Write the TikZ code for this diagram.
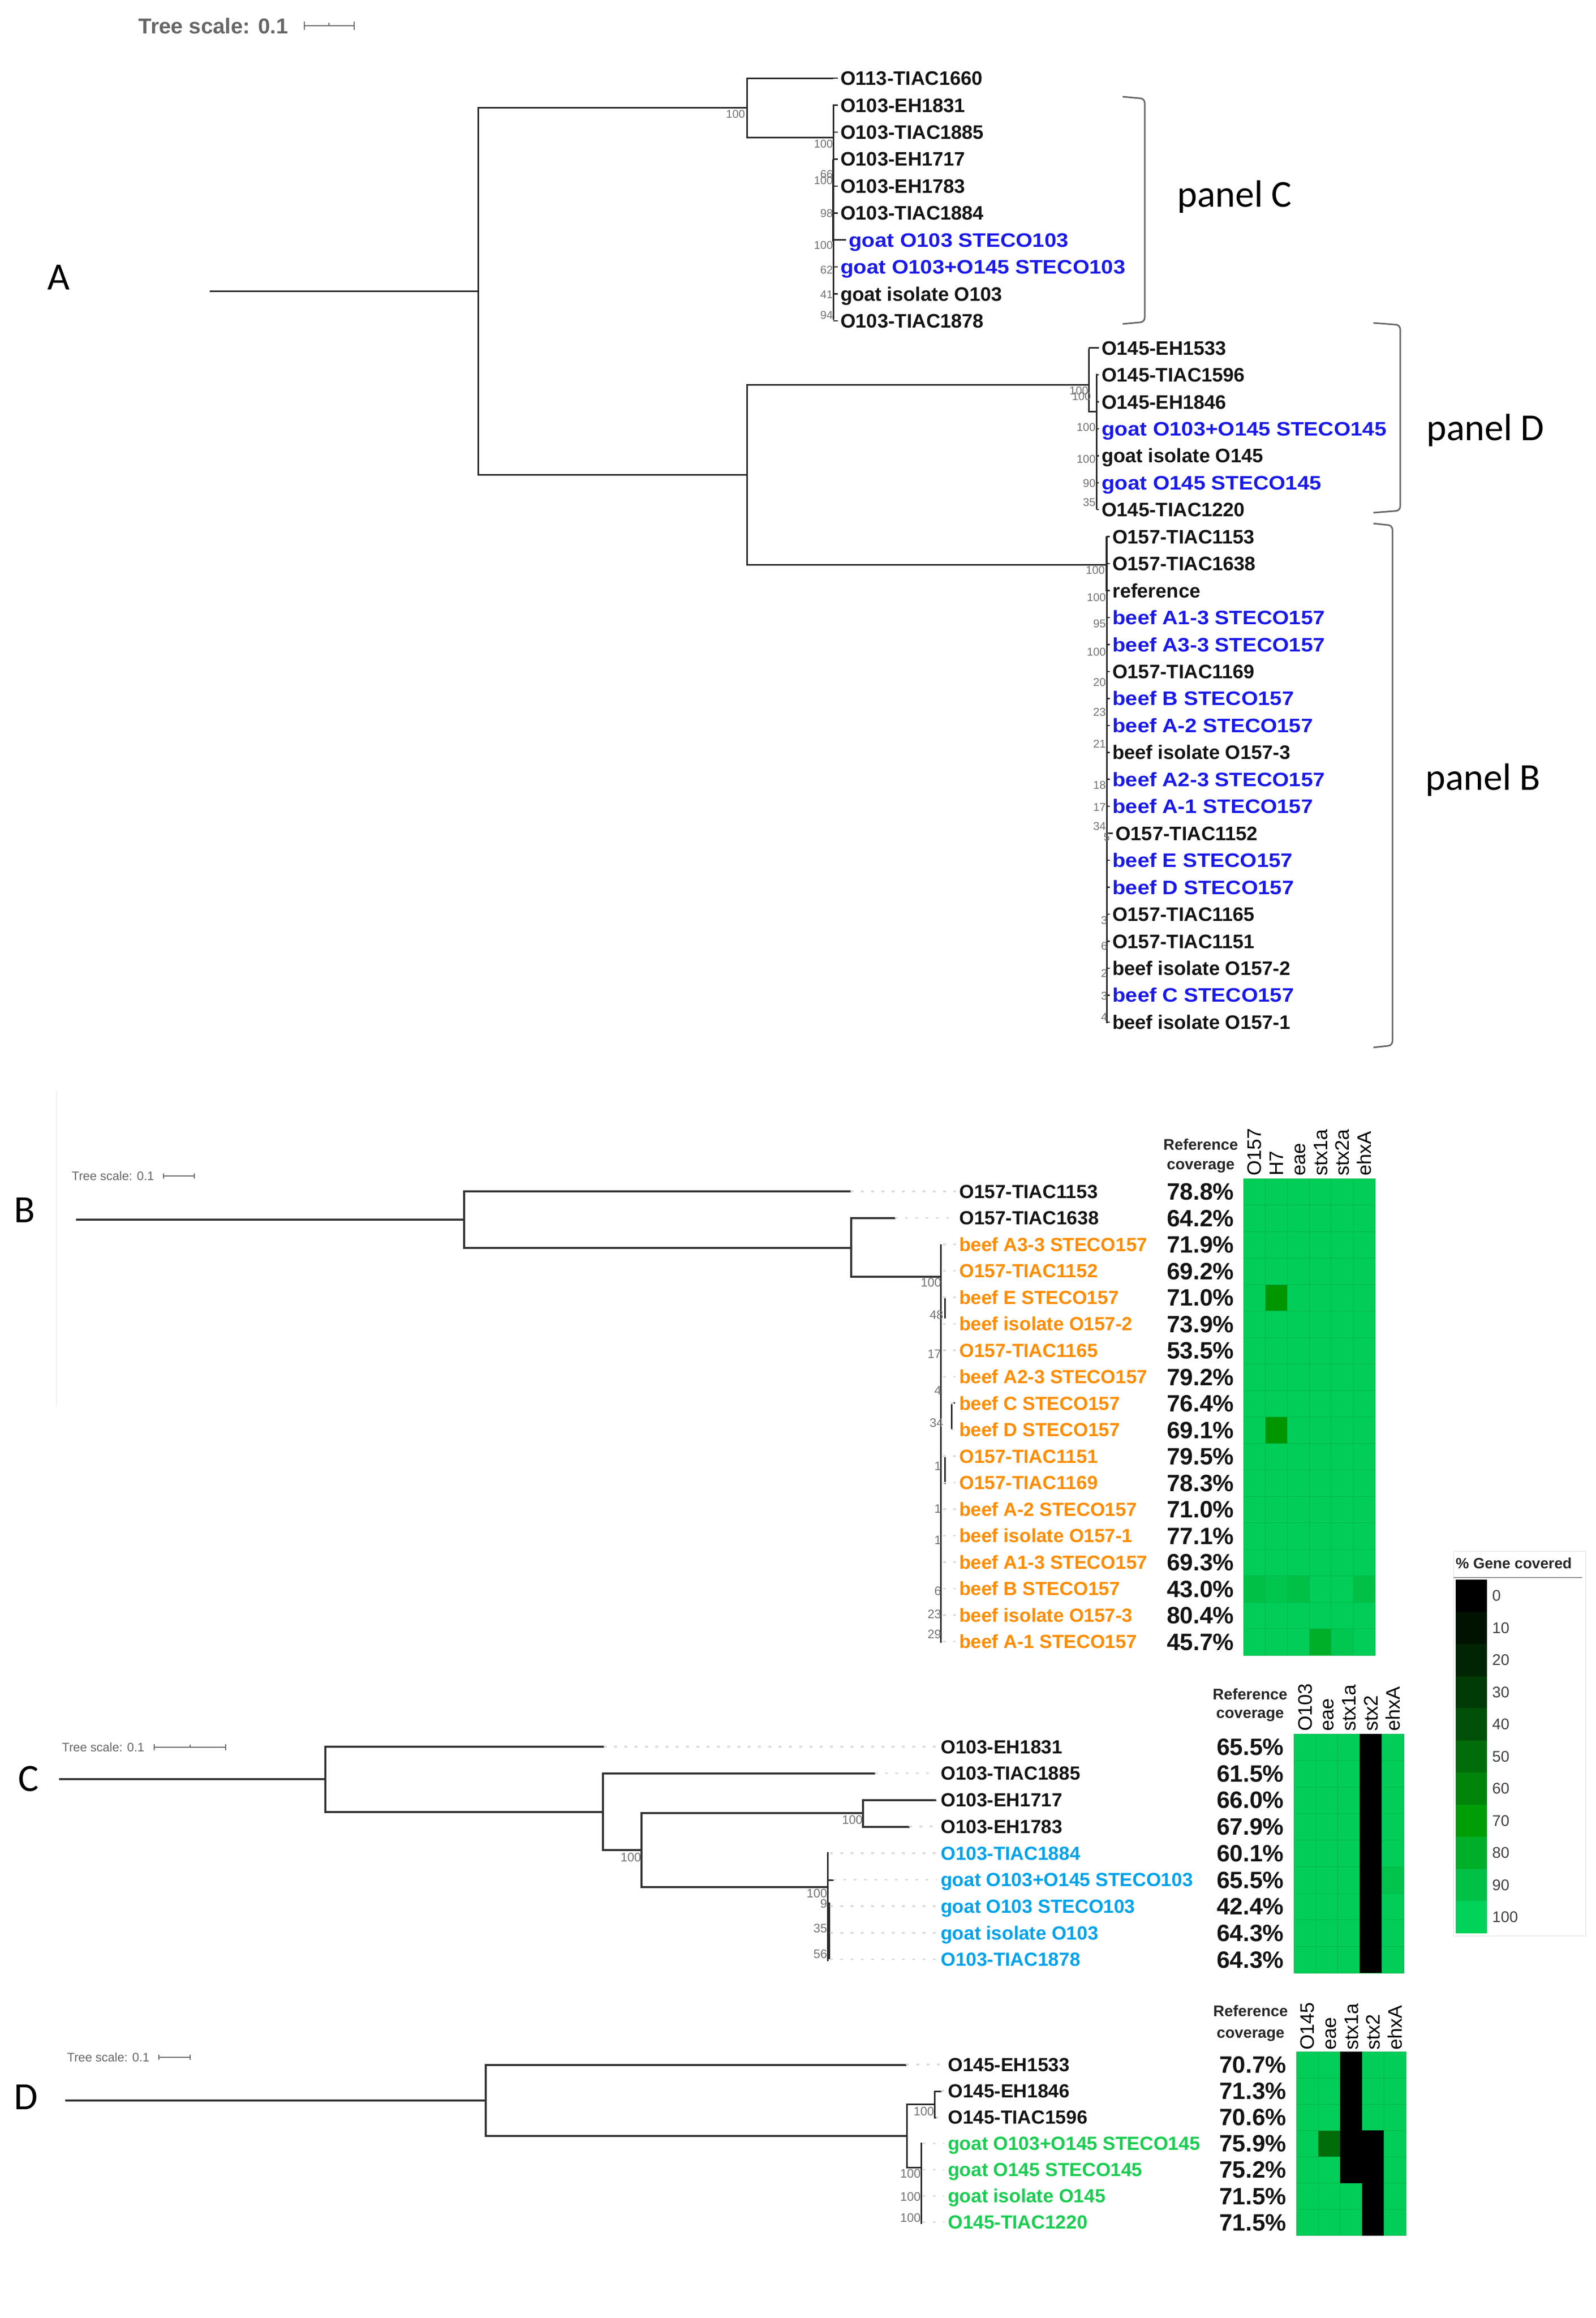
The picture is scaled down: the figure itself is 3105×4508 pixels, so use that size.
\documentclass[tikz,border=0pt]{standalone}
\usepackage{fontspec}
\setmainfont{Liberation Sans}
\newfontfamily\widesans[FakeStretch=1.1]{Liberation Sans}
\newfontfamily\calib{Carlito}
\newcommand\fsz[1]{\fontsize{#1}{#1}\selectfont}
\definecolor{lblue}{RGB}{25,25,235}
\definecolor{corange}{RGB}{255,140,0}
\definecolor{cblue}{RGB}{0,162,235}
\definecolor{cgreen}{RGB}{25,205,80}
\definecolor{hg}{RGB}{0,206,88}
\definecolor{hgrid}{RGB}{0,178,74}
\definecolor{g0}{RGB}{0,0,0}
\definecolor{g1}{RGB}{0,18,0}
\definecolor{g2}{RGB}{0,36,4}
\definecolor{g3}{RGB}{0,58,6}
\definecolor{g4}{RGB}{0,80,8}
\definecolor{g5}{RGB}{0,108,10}
\definecolor{g6}{RGB}{0,132,10}
\definecolor{g7}{RGB}{0,158,6}
\definecolor{g8}{RGB}{0,175,40}
\definecolor{g9}{RGB}{0,192,70}
\definecolor{g10}{RGB}{0,210,90}
\definecolor{hd1}{RGB}{0,150,0}
\tikzset{
  treeA/.style={line width=3pt, draw=black!85},
  tickA/.style={line width=2.5pt, draw=black!85},
  treeB/.style={line width=4.5pt, draw=black!80},
  treeBi/.style={line width=3pt, draw=black!85},
  lead/.style={dash pattern=on 3pt off 17pt, line cap=round, line width=3.5pt, draw=black!14, shorten >=8pt},
  boot/.style={font=\fsz{22}, text=black!55, inner sep=0.5pt, anchor=east},
  leafk/.style={font=\bfseries\fsz{38}, text=black!92, inner sep=0pt, anchor=base west},
  leafb/.style={font=\widesans\bfseries\fsz{38}, text=lblue, inner sep=0pt, anchor=base west},
  leafB/.style={font=\bfseries\fsz{37}, inner sep=0pt, anchor=base west},
  pct/.style={font=\bfseries\fsz{46}, text=black!92, inner sep=0pt, anchor=base east},
  hdr/.style={font=\fsz{38}, rotate=90, anchor=base west, inner sep=0pt},
  refcov/.style={font=\bfseries\fsz{30}, text=black!85, inner sep=0pt, anchor=base},
  cell/.style={draw=hgrid, line width=1pt, fill=hg},
  panellbl/.style={font=\calib\fsz{75}, inner sep=0pt},
  paneltxt/.style={font=\calib\fsz{74}, inner sep=0pt, anchor=base west},
  bracket/.style={line width=3pt, draw=black!60, rounded corners=8pt},
  scaletxt/.style={font=\fsz{24}, text=black!60, anchor=base east, inner sep=0pt},
  scalebar/.style={line width=2pt, draw=black!60},
}
\begin{document}
\begin{tikzpicture}[x=1pt,y=-1pt]
\fill[white] (0,0) rectangle (3105,4508);
\useasboundingbox (0,0) rectangle (3105,4508);

%%%%%%%%%%%%%%%% PANEL A %%%%%%%%%%%%%%%%
\node[font=\bfseries\fsz{42}, text=black!60, anchor=base east, inner sep=0pt] (scA) at (561,65) {Tree scale: 0.1};
\coordinate (sA1) at (592,50); \coordinate (sA2) at (689,50);
\draw[scalebar] (sA1) -- (sA2);
\draw[scalebar] ([yshift=-8pt]sA1) -- ([yshift=8pt]sA1);
\draw[scalebar] ([yshift=-8pt]sA2) -- ([yshift=8pt]sA2);
\draw[scalebar] (640,50) -- (640,44);
\node[panellbl] (lblA) at (114,539) {A};

\coordinate (Ar) at (408,566);
\coordinate (An1) at (930,566);
\coordinate (An2) at (1453,209);
\coordinate (An3) at (1453,923);
\coordinate (At0) at (1621,152);
\coordinate (An4) at (1621,267);
\coordinate (An4t) at (1621,203);
\coordinate (An4b) at (1621,622);
\coordinate (An5) at (2118,748);
\coordinate (An5t) at (2118,678);
\coordinate (An5b) at (2118,800);
\coordinate (An6) at (2133,800);
\coordinate (An6t) at (2133,727);
\coordinate (An6b) at (2133,990);
\coordinate (An7) at (2153,1098);
\coordinate (An7t) at (2153,1043);
\coordinate (An7b) at (2153,1990);
\draw[treeA] (Ar) -- (An1);
\draw[treeA] (An1) |- (An2);
\draw[treeA] (An1) |- (An3);
\draw[treeA] (An2) |- (At0);
\draw[treeA] (An2) |- (An4);
\draw[treeA] (An4t) -- (An4b);
\draw[treeA] (An3) |- (An5);
\draw[treeA] (An5t) -- (An5b) -- (An6);
\draw[treeA] (An6t) -- (An6b);
\draw[treeA] (An3) |- (An7);
\draw[treeA] (An7t) -- (An7b);
\draw[line width=4pt, black!85] (1621,310) -- (1621,470);
\draw[line width=4pt, black!85] (2153,1043) -- (2153,1150);

\foreach \i/\x/\vx/\s/\t in {
0/1635/1621/leafk/O113-TIAC1660,
1/1635/1621/leafk/O103-EH1831,
2/1635/1621/leafk/O103-TIAC1885,
3/1635/1621/leafk/O103-EH1717,
4/1635/1621/leafk/O103-EH1783,
5/1635/1621/leafk/O103-TIAC1884,
6/1651/1621/leafb/goat O103 STECO103,
7/1635/1621/leafb/goat O103+O145 STECO103,
8/1635/1621/leafk/goat isolate O103,
9/1635/1621/leafk/O103-TIAC1878,
10/2143/2118/leafk/O145-EH1533,
11/2143/2133/leafk/O145-TIAC1596,
12/2143/2133/leafk/O145-EH1846,
13/2143/2133/leafb/goat O103+O145 STECO145,
14/2143/2133/leafk/goat isolate O145,
15/2143/2133/leafb/goat O145 STECO145,
16/2143/2133/leafk/O145-TIAC1220,
17/2164/2153/leafk/O157-TIAC1153,
18/2164/2153/leafk/O157-TIAC1638,
19/2164/2153/leafk/reference,
20/2164/2153/leafb/beef A1-3 STECO157,
21/2164/2153/leafb/beef A3-3 STECO157,
22/2164/2153/leafk/O157-TIAC1169,
23/2164/2153/leafb/beef B STECO157,
24/2164/2153/leafb/beef A-2 STECO157,
25/2164/2153/leafk/beef isolate O157-3,
26/2164/2153/leafb/beef A2-3 STECO157,
27/2164/2153/leafb/beef A-1 STECO157,
28/2170/2153/leafk/O157-TIAC1152,
29/2164/2153/leafb/beef E STECO157,
30/2164/2153/leafb/beef D STECO157,
31/2164/2153/leafk/O157-TIAC1165,
32/2164/2153/leafk/O157-TIAC1151,
33/2164/2153/leafk/beef isolate O157-2,
34/2164/2153/leafb/beef C STECO157,
35/2164/2153/leafk/beef isolate O157-1}{
  \pgfmathsetmacro\yy{152+52.45*\i}
  \coordinate (aT\i) at (\vx,\yy);
  \draw[tickA] (aT\i) -- ++(\x-\vx-5,0);
  \node[\s] (aL\i) at (\x,\yy+13.6) {\t};
}
\foreach \x/\y/\t [count=\n] in {1450/222/100, 1621/280/100, 1621/339/66, 1621/351/100, 1621/415/98, 1621/477/100, 1621/525/62, 1621/573/41, 1621/613/94, 2118/760/100, 2123/771/100, 2132/831/100, 2132/893/100, 2132/940/90, 2132/977/35, 2150/1109/100, 2152/1162/100, 2152/1213/95, 2152/1268/100, 2152/1327/20, 2152/1385/23, 2152/1447/21, 2152/1527/18, 2152/1570/17, 2152/1607/34, 2160/1628/5, 2155/1790/3, 2155/1840/6, 2155/1893/2, 2155/1937/3, 2155/1978/4}{
  \node[boot] (bsA\n) at (\x,\y) {\t};
}
% brackets
\draw[bracket] (2184,188) -- (2227,192) -- (2227,626) -- (2184,630);
\draw[bracket] (2672,628) -- (2724,632) -- (2724,993) -- (2672,997);
\draw[bracket] (2672,1018) -- (2709,1022) -- (2709,2033) -- (2672,2037);
\node[paneltxt] (pC) at (2290,402) {panel C};
\node[paneltxt] (pD) at (2775,856) {panel D};
\node[paneltxt] (pB) at (2773,1536) {panel B};

%%%%%%%%%%%%%%%% PANEL B %%%%%%%%%%%%%%%%
\draw[line width=1.5pt, black!6] (110,2122) -- (110,2736);
\node[panellbl] (lblB) at (48,2353) {B};
\node[scaletxt] (scB) at (300,2295.6) {Tree scale: 0.1};
\coordinate (sB1) at (318,2287); \coordinate (sB2) at (378,2287);
\draw[scalebar, line width=1.5pt] (sB1) -- (sB2);
\draw[scalebar, line width=1.5pt] ([yshift=-5pt]sB1) -- ([yshift=5pt]sB1);
\draw[scalebar, line width=1.5pt] ([yshift=-5pt]sB2) -- ([yshift=5pt]sB2);

\coordinate (Br) at (148,2372);
\coordinate (Bn1) at (903,2372);
\coordinate (Bt0) at (1656,2317);
\coordinate (Bn2) at (1656,2427);
\coordinate (Bt1) at (1742,2369);
\coordinate (Bn3) at (1830,2483);
\coordinate (Bn3t) at (1830,2420);
\coordinate (Bn3b) at (1830,3195);
\draw[treeB] (Br) -- (Bn1);
\draw[treeB] (Bn1) |- (Bt0);
\draw[treeB] (Bn1) |- (Bn2);
\draw[treeB] (Bn2) |- (Bt1);
\draw[treeB] (Bn2) |- (Bn3);
\draw[treeBi] (Bn3t) -- (Bn3b);
\draw[treeBi] (1838,2522) -- (1838,2564);
\draw[treeBi] (1858,2728) -- (1851,2728) -- (1851,2780);
\draw[treeBi] (1838,2830) -- (1838,2886);

\foreach \j/\tx/\c/\t/\p in {
0/1656/black!92/O157-TIAC1153/78.8,
1/1742/black!92/O157-TIAC1638/64.2,
2/1836/corange/beef A3-3 STECO157/71.9,
3/1836/corange/O157-TIAC1152/69.2,
4/1836/corange/beef E STECO157/71.0,
5/1836/corange/beef isolate O157-2/73.9,
6/1836/corange/O157-TIAC1165/53.5,
7/1836/corange/beef A2-3 STECO157/79.2,
8/1851/corange/beef C STECO157/76.4,
9/1851/corange/beef D STECO157/69.1,
10/1836/corange/O157-TIAC1151/79.5,
11/1836/corange/O157-TIAC1169/78.3,
12/1836/corange/beef A-2 STECO157/71.0,
13/1836/corange/beef isolate O157-1/77.1,
14/1836/corange/beef A1-3 STECO157/69.3,
15/1836/corange/beef B STECO157/43.0,
16/1836/corange/beef isolate O157-3/80.4,
17/1836/corange/beef A-1 STECO157/45.7}{
  \pgfmathsetmacro\yy{2317+51.5*\j}
  \node[leafB, text=\c] (bL\j) at (1866,\yy+13.2) {\t};
  \node[pct] (bP\j) at (2401,\yy+16.5) {\p\%};
  \coordinate (bT\j) at (\tx,\yy);
  \draw[lead] (bT\j) -- (bT\j -| bL\j.west);
}
\foreach \x/\y/\t [count=\n] in {1832/2494/100, 1836/2557/48, 1832/2633/17, 1832/2704/4, 1836/2767/34, 1832/2851/1, 1832/2934/1, 1832/2995/1, 1832/3094/6, 1832/3139/23, 1832/3178/29}{
  \node[boot, font=\fsz{24}] (bsB\n) at (\x,\y) {\t};
}
\node[refcov] (bRef1) at (2336,2236) {Reference};
\node[refcov] (bRef2) at (2336,2274) {coverage};
\foreach \k/\t in {0/O157,1/H7,2/eae,3/stx1a,4/stx2a,5/ehxA}{
  \node[hdr] (bH\k) at ({2419+42.7*(\k+0.5)+13.6},2287) {\t};
}
\foreach \j in {0,...,17}{
  \foreach \k in {0,...,5}{
    \draw[cell] ({2419+42.7*\k},{2292+51.5*\j}) rectangle ++(42.7,51.5);
  }
}
\foreach \j/\k/\col in {4/1/hd1, 9/1/hd1, 15/0/g9, 15/1/g9!60!hg, 15/2/g9, 15/5/g9, 17/3/g8, 17/4/g9!50!hg}{
  \draw[cell, fill=\col] ({2419+42.7*\k},{2292+51.5*\j}) rectangle ++(42.7,51.5);
}

%%%%%%%%%%%%%%%% PANEL C %%%%%%%%%%%%%%%%
\node[panellbl] (lblC) at (55,3459) {C};
\node[scaletxt] (scC) at (281,3406.6) {Tree scale: 0.1};
\coordinate (sC1) at (300,3398); \coordinate (sC2) at (439,3398);
\draw[scalebar, line width=1.5pt] (sC1) -- (sC2);
\draw[scalebar, line width=1.5pt] ([yshift=-6pt]sC1) -- ([yshift=6pt]sC1);
\draw[scalebar, line width=1.5pt] ([yshift=-6pt]sC2) -- ([yshift=6pt]sC2);
\draw[scalebar, line width=1.5pt] (370,3398) -- (370,3393);

\coordinate (Cr) at (115,3460);
\coordinate (Cn1) at (633,3460);
\coordinate (Ct0) at (1176,3397);
\coordinate (Cn2) at (1173,3524);
\coordinate (Ct1) at (1703,3449);
\coordinate (Cn3) at (1248,3598);
\coordinate (Cn4) at (1679,3526);
\coordinate (Ct2) at (1822,3501);
\coordinate (Ct3) at (1770,3553);
\coordinate (Cn5) at (1610,3670);
\coordinate (Cn5t) at (1610,3602);
\coordinate (Cn5b) at (1610,3814);
\draw[treeB] (Cr) -- (Cn1);
\draw[treeB] (Cn1) |- (Ct0);
\draw[treeB] (Cn1) |- (Cn2);
\draw[treeB] (Cn2) |- (Ct1);
\draw[treeB] (Cn2) |- (Cn3);
\draw[treeB] (Cn3) |- (Cn4);
\draw[treeB] (Cn4) |- (Ct2);
\draw[treeB] (Cn4) |- (Ct3);
\draw[treeB] (Cn3) |- (Cn5);
\draw[treeBi] (Cn5t) -- (Cn5b);
\draw[treeBi] (1610,3656) -- (1622,3656);
\draw[line width=4pt, black!85] (1613,3700) -- (1613,3810);

\foreach \j/\tx/\c/\t/\p in {
0/1176/black!92/O103-EH1831/65.5,
1/1703/black!92/O103-TIAC1885/61.5,
2/1822/black!92/O103-EH1717/66.0,
3/1770/black!92/O103-EH1783/67.9,
4/1616/cblue/O103-TIAC1884/60.1,
5/1622/cblue/goat O103+O145 STECO103/65.5,
6/1616/cblue/goat O103 STECO103/42.4,
7/1616/cblue/goat isolate O103/64.3,
8/1616/cblue/O103-TIAC1878/64.3}{
  \pgfmathsetmacro\yy{3397+51.7*\j}
  \node[leafB, text=\c] (cL\j) at (1830,\yy+13.2) {\t};
  \node[pct] (cP\j) at (2498,\yy+16.5) {\p\%};
  \coordinate (cT\j) at (\tx,\yy);
  \draw[lead] (cT\j) -- (cT\j -| cL\j.west);
}
\foreach \x/\y/\t [count=\n] in {1248/3612/100, 1679/3539/100, 1610/3682/100, 1610/3702/9, 1610/3750/35, 1610/3800/56}{
  \node[boot, font=\fsz{24}] (bsC\n) at (\x,\y) {\t};
}
\node[refcov] (cRef1) at (2432,3305) {Reference};
\node[refcov] (cRef2) at (2432,3341) {coverage};
\foreach \k/\t in {0/O103,1/eae,2/stx1a,3/stx2,4/ehxA}{
  \node[hdr] (cH\k) at ({2517+42.8*(\k+0.5)+13.6},3367) {\t};
}
\foreach \j in {0,...,8}{
  \foreach \k in {0,...,4}{
    \draw[cell] ({2517+42.8*\k},{3372+51.7*\j}) rectangle ++(42.8,51.7);
  }
}
\fill[black] ({2517+42.8*3},3372) rectangle ++(42.8,{51.7*9});
\draw[cell, fill=g9!70!hg] ({2517+42.8*4},{3372+51.7*5}) rectangle ++(42.8,51.7);

%%%%%%%%%%%%%%%% PANEL D %%%%%%%%%%%%%%%%
\node[panellbl] (lblD) at (51,4078) {D};
\node[scaletxt] (scD) at (291,4009.6) {Tree scale: 0.1};
\coordinate (sD1) at (309,4001); \coordinate (sD2) at (370,4001);
\draw[scalebar, line width=1.5pt] (sD1) -- (sD2);
\draw[scalebar, line width=1.5pt] ([yshift=-5pt]sD1) -- ([yshift=5pt]sD1);
\draw[scalebar, line width=1.5pt] ([yshift=-5pt]sD2) -- ([yshift=5pt]sD2);

\coordinate (Dr) at (127,4085);
\coordinate (Dn1) at (945,4085);
\coordinate (Dt0) at (1764,4016);
\coordinate (Dn2) at (1764,4154);
\coordinate (Dn3) at (1818,4092);
\coordinate (Dt1) at (1832,4067);
\coordinate (Dt2) at (1822,4118);
\coordinate (Dn4) at (1792,4215);
\coordinate (Dn4t) at (1792,4167);
\coordinate (Dn4b) at (1792,4325);
\draw[treeB] (Dr) -- (Dn1);
\draw[treeB] (Dn1) |- (Dt0);
\draw[treeB] (Dn1) |- (Dn2);
\draw[treeBi] (Dn2) |- (Dn3);
\draw[treeBi] (Dn2) |- (Dn4);
\draw[treeBi] (Dn3) |- (Dt1);
\draw[treeBi] (Dn3) |- (Dt2);
\draw[treeBi] (Dn4t) -- (Dn4b);

\foreach \j/\tx/\c/\t/\p in {
0/1764/black!92/O145-EH1533/70.7,
1/1832/black!92/O145-EH1846/71.3,
2/1822/black!92/O145-TIAC1596/70.6,
3/1796/cgreen/goat O103+O145 STECO145/75.9,
4/1796/cgreen/goat O145 STECO145/75.2,
5/1796/cgreen/goat isolate O145/71.5,
6/1796/cgreen/O145-TIAC1220/71.5}{
  \pgfmathsetmacro\yy{4015+51.1*\j}
  \node[leafB, text=\c] (dL\j) at (1844,\yy+13.2) {\t};
  \node[pct] (dP\j) at (2503,\yy+16.5) {\p\%};
  \coordinate (dT\j) at (\tx,\yy);
  \draw[lead] (dT\j) -- (dT\j -| dL\j.west);
}
\foreach \x/\y/\t [count=\n] in {1818/4106/100, 1792/4227/100, 1792/4272/100, 1792/4313/100}{
  \node[boot, font=\fsz{24}] (bsD\n) at (\x,\y) {\t};
}
\node[refcov] (dRef1) at (2433,3921) {Reference};
\node[refcov] (dRef2) at (2433,3963) {coverage};
\foreach \k/\t in {0/O145,1/eae,2/stx1a,3/stx2,4/ehxA}{
  \node[hdr] (dH\k) at ({2522+42.6*(\k+0.5)+13.6},3987) {\t};
}
\foreach \j in {0,...,6}{
  \foreach \k in {0,...,4}{
    \draw[cell] ({2522+42.6*\k},{3990+51.1*\j}) rectangle ++(42.6,51.1);
  }
}
\draw[cell, fill=g5] ({2522+42.6*1},{3990+51.1*3}) rectangle ++(42.6,51.1);
\fill[black] ({2522+42.6*2},3990) rectangle ++(42.6,{51.1*5});
\fill[black] ({2522+42.6*3},{3990+51.1*3}) rectangle ++(42.6,{51.1*4});

%%%%%%%%%%%%%%%% LEGEND %%%%%%%%%%%%%%%%
\draw[black!8, line width=1.5pt] (2828,3017) rectangle (3085,3765);
\node[font=\bfseries\fsz{29}, text=black!85, anchor=base west, inner sep=0pt] (legT) at (2832,3050) {\% Gene covered};
\draw[black!45, line width=1.5pt] (2828,3068) -- (3078,3068);
\foreach \k/\v in {0/0,1/10,2/20,3/30,4/40,5/50,6/60,7/70,8/80,9/90,10/100}{
  \fill[g\k] (2832,{3072+62.5*\k}) rectangle ++(61,62.5);
  \node[font=\fsz{30}, text=black!75, anchor=base west, inner sep=0pt] (legL\k) at (2903,{3072+62.5*\k+31.25+10.7}) {\v};
}
\end{tikzpicture}
\end{document}
